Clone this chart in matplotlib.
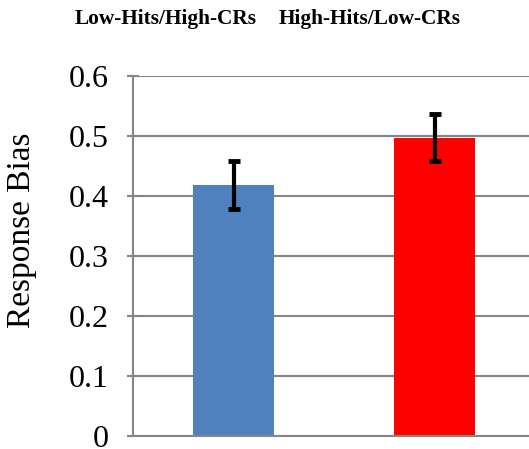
import numpy as np
import matplotlib
matplotlib.use("Agg")
import matplotlib.pyplot as plt

plt.rcParams['font.family'] = ['Liberation Serif', 'DejaVu Serif']

conditions = ['Low-Hits/High-CRs', 'High-Hits/Low-CRs']
bias = [0.418, 0.497]
bias_err = [0.040, 0.039]
bar_colors = ['#4F81BD', '#FF0000']
yticks = [0, 0.1, 0.2, 0.3, 0.4, 0.5, 0.6]
ytick_labels = ['0', '0.1', '0.2', '0.3', '0.4', '0.5', '0.6']

grid_gray = '#868686'

fig = plt.figure(figsize=(5.29, 4.49), dpi=100)
ax = fig.add_axes([0.2514, 0.029, 0.76, 0.8018])

x = np.arange(len(conditions))
ax.bar(x, bias, width=0.4, color=bar_colors, zorder=2)
ax.errorbar(x, bias, yerr=bias_err, fmt='none', ecolor='black',
            elinewidth=3, capsize=4.3, capthick=3.5, zorder=3)

ax.set_xlim(-0.5, 1.5)
ax.set_ylim(0, 0.6)
ax.set_yticks(yticks)
ax.set_yticklabels(ytick_labels, fontsize=23)
ax.set_xticks([])
ax.yaxis.grid(True, color=grid_gray, linewidth=1.5, zorder=0)
ax.set_axisbelow(True)

for side in ['top', 'right']:
    ax.spines[side].set_visible(False)
for side in ['left', 'bottom']:
    ax.spines[side].set_color(grid_gray)
    ax.spines[side].set_linewidth(1.5)
ax.tick_params(axis='y', direction='inout', length=8.6, width=1.5,
               color=grid_gray, pad=13)

ax.set_ylabel('Response Bias', fontsize=24)
ax.yaxis.set_label_coords(-0.239, 0.572)

# category labels sit above the plot as plain text
fig.text(166 / 529, 1 - 19 / 449, conditions[0], ha='center', va='center',
         fontsize=15.4, fontweight='bold')
fig.text(370 / 529, 1 - 19 / 449, conditions[1], ha='center', va='center',
         fontsize=15.4, fontweight='bold')

fig.savefig('out.png', dpi=100)
